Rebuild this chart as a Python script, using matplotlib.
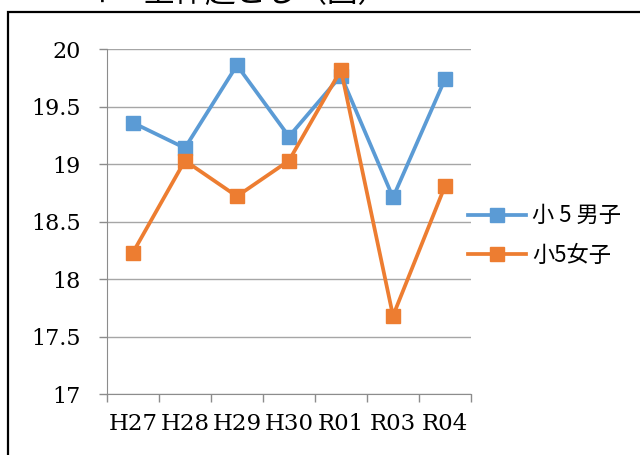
import matplotlib.pyplot as plt
from matplotlib.patches import Rectangle

# data
years = ['H27', 'H28', 'H29', 'H30', 'R01', 'R03', 'R04']
boys = [19.36, 19.14, 19.86, 19.24, 19.77, 18.71, 19.74]
girls = [18.23, 19.03, 18.72, 19.03, 19.82, 17.68, 18.81]
labels = ['小 5 男子', '小5女子']

plt.rcParams['font.family'] = ['Noto Sans CJK JP', 'DejaVu Sans']

fig = plt.figure(figsize=(6.4, 4.55), dpi=100)
ax = fig.add_axes([0.167, 0.134, 0.569, 0.758])

x = list(range(len(years)))
ax.plot(x, boys, color='#5B9BD5', lw=2.7, marker='s', ms=10, label=labels[0])
ax.plot(x, girls, color='#ED7D31', lw=2.7, marker='s', ms=10, label=labels[1])

ax.set_ylim(17, 20)
ax.set_xlim(-0.5, len(years) - 0.5)
ax.set_yticks([17, 17.5, 18, 18.5, 19, 19.5, 20])
ax.set_yticklabels(['17', '17.5', '18', '18.5', '19', '19.5', '20'],
                   family='DejaVu Serif', fontsize=16)
ax.set_xticks(x)
ax.set_xticklabels(years, family='DejaVu Serif', fontsize=16.5)
ax.set_xticks([i - 0.5 for i in range(len(years) + 1)], minor=True)
ax.tick_params(axis='x', which='major', length=0, pad=14)
ax.tick_params(axis='x', which='minor', length=6, color='#8c8c8c', width=1)
ax.tick_params(axis='y', length=6, color='#8c8c8c', width=1, pad=13)
ax.grid(axis='y', color='#a6a6a6', lw=1)
ax.set_axisbelow(True)
for s in ['top', 'right']:
    ax.spines[s].set_visible(False)
ax.spines['left'].set_color('#8c8c8c')
ax.spines['bottom'].set_color('#8c8c8c')

fig.legend(loc='center left', bbox_to_anchor=(0.70, 0.482), frameon=False,
           fontsize=16, handlelength=2.6, labelspacing=0.75, handletextpad=0.3)

# outer frame and clipped title
fig.patches.append(Rectangle((8 / 640, -0.1), 1.2, 1 - 12 / 455 + 0.1,
                             transform=fig.transFigure, fill=False,
                             ec='black', lw=1.6))
fig.text(0.13, 1 - 9 / 455, '４　上体起こし（回）', fontsize=22, va='bottom')

fig.savefig('out.png', dpi=100)
